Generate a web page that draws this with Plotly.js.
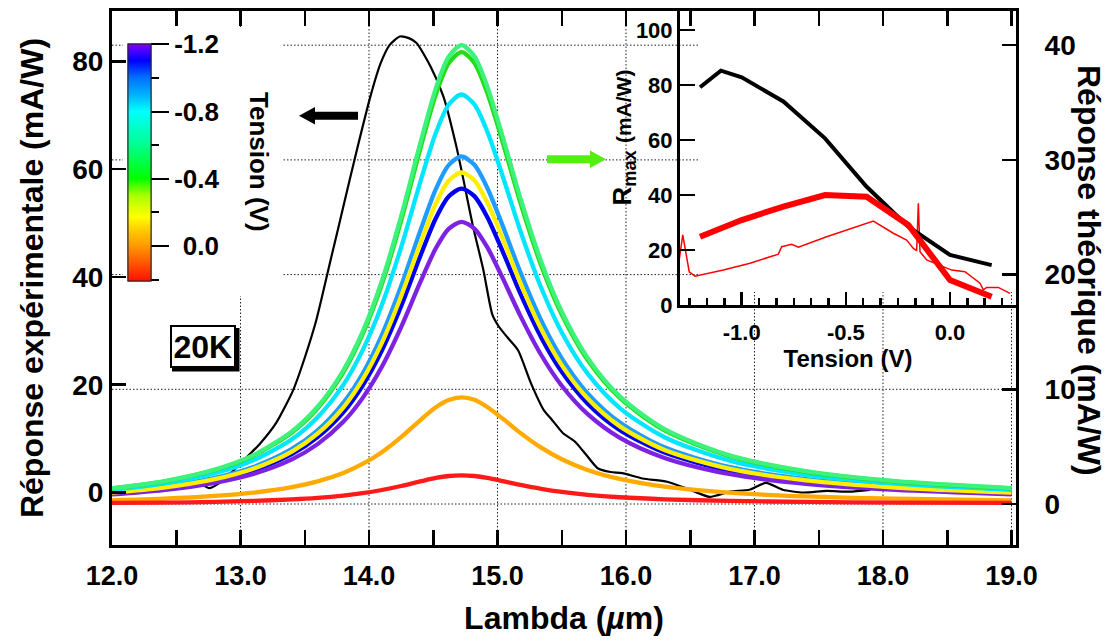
<!DOCTYPE html>
<html><head><meta charset="utf-8">
<script src="https://cdn.plot.ly/plotly-3.0.1.min.js"></script>
<style>html,body{margin:0;padding:0;background:#fff}</style>
</head><body><div id="chart" style="width:1115px;height:640px"></div>
<script>
// ---------------- DATA ----------------
// Experimental response (left axis, mA/W) vs wavelength (µm)
const lambdaExp = [12.70,12.76,12.85,12.95,13.05,13.15,13.28,13.41,13.50,13.59,13.70,13.80,13.90,14.01,14.09,14.16,14.24,14.31,14.37,14.48,14.58,14.68,14.73,14.81,14.89,14.96,15.01,15.08,15.16,15.26,15.36,15.42,15.51,15.60,15.69,15.78,15.88,15.97,16.13,16.32,16.50,16.65,16.81,16.96,17.09,17.22,17.38,17.56,17.74,17.90];
const respExp   = [1.5,0.8,2.0,4.2,6.6,9.0,13.0,19.0,25.0,32.0,43.0,53.0,63.0,73.4,79.6,83.0,84.6,84.3,83.4,79.0,73.4,64.2,58.6,49.3,41.3,33.0,30.8,28.7,26.4,20.3,15.3,13.6,11.0,9.5,7.0,4.5,3.8,3.6,2.6,2.0,0.5,-0.8,0.15,0.5,1.8,0.5,0.0,0.3,0.15,0.5];

// Theoretical responses (right axis, mA/W) for each bias
const lambdaTh  = [12.0,12.4,12.8,13.1,13.4,13.6,13.8,13.95,14.1,14.25,14.4,14.52,14.62,14.72,14.82,14.92,15.04,15.18,15.34,15.5,15.7,15.95,16.3,16.8,17.4,18.1,19.0];
const respThM12 = [0.84,1.22,1.85,2.62,3.89,5.22,7.16,9.23,11.96,15.42,19.36,22.29,23.99,24.6,24.01,22.39,19.70,16.36,12.99,10.31,7.85,5.78,4.01,2.62,1.76,1.23,0.85];
const respThM11 = [0.94,1.36,2.07,2.93,4.35,5.83,8.00,10.31,13.37,17.24,21.64,24.92,26.81,27.5,26.84,25.03,22.03,18.29,14.52,11.52,8.77,6.46,4.48,2.93,1.96,1.37,0.95];
const respThM10 = [1.04,1.50,2.28,3.23,4.80,6.42,8.82,11.36,14.73,19.0,23.85,27.45,29.54,30.3,29.57,27.57,24.27,20.15,16.0,12.70,9.67,7.12,4.94,3.23,2.16,1.51,1.05];
const respThM08 = [1.22,1.77,2.68,3.81,5.65,7.57,10.39,13.39,17.35,22.38,28.10,32.34,34.81,35.7,34.84,32.49,28.60,23.74,18.85,14.96,11.39,8.39,5.82,3.80,2.55,1.78,1.24];
const respThM06 = [1.37,1.98,3.00,4.26,6.33,8.48,11.64,15.0,19.44,25.08,31.48,36.24,39.0,40.0,39.04,36.4,32.04,26.6,21.12,16.76,12.76,9.4,6.52,4.26,2.86,1.99,1.39];
const respThM04 = [1.35,1.95,2.96,4.20,6.24,8.35,11.47,14.78,19.15,24.70,31.01,35.70,38.42,39.4,38.45,35.85,31.56,26.20,20.80,16.51,12.57,9.26,6.42,4.20,2.81,1.96,1.37];
const respThM02 = [0.99,1.43,2.17,3.08,4.57,6.13,8.41,10.84,14.05,18.12,22.74,26.18,28.18,28.9,28.21,26.30,23.15,19.22,15.26,12.11,9.22,6.79,4.71,3.08,2.06,1.44,1.00];
const respTh00  = [0.32,0.46,0.70,0.99,1.47,1.97,2.71,3.49,4.52,5.83,7.32,8.43,9.07,9.3,9.08,8.46,7.45,6.18,4.91,3.90,2.97,2.19,1.52,0.99,0.66,0.46,0.32];
const respThP02 = [0.09,0.12,0.19,0.27,0.40,0.53,0.73,0.94,1.22,1.57,1.97,2.27,2.44,2.5,2.44,2.28,2.0,1.66,1.32,1.05,0.80,0.59,0.41,0.27,0.18,0.12,0.09];

// Colour-bar tension values (V)
const tensionScale = [-1.2,-1.1,-1.0,-0.8,-0.6,-0.4,-0.2,0.0,0.2];
const cbMajorVals = [-1.2,-0.8,-0.4,0.0];
const cbMajorText = ['-1.2','-0.8','-0.4','\u20040.0'];
const cbMinorVals = [-1.0,-0.6,-0.2,0.2];

// Inset: Rmax vs tension
const tensionExpMax = [-1.2,-1.1,-1.0,-0.8,-0.6,-0.4,-0.2,0.0,0.2];
const rmaxExp       = [79.2,85.2,82.8,74.0,60.6,43.0,28.5,18.2,14.5];
const tensionThMax  = [-1.2,-1.0,-0.8,-0.6,-0.4,-0.2,0.0,0.2];
const rmaxTh        = [24.8,30.9,35.8,40.0,39.4,29.1,9.1,3.0];
const tensionScan   = [-1.300,-1.283,-1.252,-1.224,-1.088,-0.960,-0.824,-0.808,-0.760,-0.728,-0.592,-0.496,-0.368,-0.272,-0.208,-0.176,-0.160,-0.152,-0.144,-0.112,-0.048,0.008,0.072,0.144,0.160,0.176,0.232,0.288];
const rmaxScan      = [16.4,25.5,12.1,10.5,12.7,15.2,18.5,21.2,22.1,21.0,24.8,27.3,30.5,26.1,23.6,20.6,19.8,37.0,19.4,16.4,14.5,12.7,12.1,7.9,5.5,6.4,6.4,4.2];

// Tick / grid values
const lambdaTicks = [12,13,14,15,16,17,18,19];
const thGrid = [0,10,20,30,40];
const insetXTicks = [-1.0,-0.5,0.0];
const insetXText = ['-1.0','-0.5','0.0'];

// ---------------- STYLE / LAYOUT ----------------
const FONT = 'Liberation Sans, Arial, Helvetica, sans-serif';
const W = 1115, H = 640;
const M = {l:112, r:99, t:11, b:95};
const PW = W - M.l - M.r, PH = H - M.t - M.b;
const px2x = px => (px - M.l) / PW;
const px2y = py => (H - M.b - py) / PH;
const bold = (size, color) => ({family: FONT, size: size, weight: 'bold', color: color || '#000'});
const pathPx = pts => 'M' + pts.map(p => px2x(p[0]).toFixed(5) + ',' + px2y(p[1]).toFixed(5)).join('L') + 'Z';

const thSeries = [
  {y: respThM10, c: '#1e9cff'},
  {y: respThM11, c: '#0000ee'},
  {y: respThM12, c: '#7d22e0'},
  {y: respThM02, c: '#ffee00'},
  {y: respThM08, c: '#00e6ff'},
  {y: respThM04, c: '#22dc14'},
  {y: respThM06, c: '#3cf27a'},
  {y: respTh00,  c: '#ffaa00'},
  {y: respThP02, c: '#ff1a1a'}
];

const rainbow = [
  [0.00,'#ff1000'],[0.08,'#ff5a00'],[0.15,'#ff9a00'],[0.22,'#ffd000'],[0.27,'#ffff00'],
  [0.36,'#aaff00'],[0.433,'#00ff00'],[0.575,'#00ff90'],[0.716,'#00ffff'],[0.787,'#00b0ff'],
  [0.858,'#0070ff'],[0.93,'#0000ff'],[1.00,'#8000ff']
];

const traces = [];
traces.push({type:'scatter', mode:'lines', x: lambdaExp, y: respExp, xaxis:'x', yaxis:'y',
  line:{color:'#000', width:2.2, shape:'spline', smoothing:0.6}, hoverinfo:'skip', showlegend:false});
thSeries.forEach(s => traces.push({type:'scatter', mode:'lines', x: lambdaTh, y: s.y, xaxis:'x', yaxis:'y2',
  line:{color:s.c, width:4.3, shape:'spline', smoothing:0.8}, hoverinfo:'skip', showlegend:false}));

const cbCommon = {x: px2x(127.7), xanchor:'left', y: px2y(44.3), yanchor:'top', xref:'paper', yref:'paper',
  len: 237.4, lenmode:'pixels', thickness: 23, thicknessmode:'pixels', xpad:0, ypad:0,
  outlinewidth:1, outlinecolor:'#222', bgcolor:'rgba(0,0,0,0)', ticks:'outside', tickcolor:'#000'};
// colour bar (values negated so that -1.2 sits on top)
traces.push({type:'scatter', mode:'markers', x: tensionScale, y: tensionScale, xaxis:'x', yaxis:'y',
  hoverinfo:'skip', showlegend:false,
  marker:{size:1, opacity:0, color: tensionScale.map(v => -v), cmin:-0.21, cmax:1.2, colorscale: rainbow, showscale:true,
    colorbar: Object.assign({}, cbCommon, {ticklen:18, tickwidth:2, tickvals: cbMajorVals.map(v => -v), ticktext: cbMajorText,
      tickfont: bold(26)})}});
traces.push({type:'scatter', mode:'markers', x: tensionScale, y: tensionScale, xaxis:'x', yaxis:'y',
  hoverinfo:'skip', showlegend:false,
  marker:{size:1, opacity:0, color: tensionScale.map(v => -v), cmin:-0.21, cmax:1.2, colorscale: rainbow, showscale:true,
    colorbar: Object.assign({}, cbCommon, {ticklen:8, tickwidth:2, tickvals: cbMinorVals.map(v => -v), ticktext: cbMinorVals.map(() => ''),
      showticklabels:false, tickfont: bold(26)})}});

// inset traces
traces.push({type:'scatter', mode:'lines', x: tensionScan, y: rmaxScan, xaxis:'x3', yaxis:'y3',
  line:{color:'#ff0000', width:1.5}, hoverinfo:'skip', showlegend:false});
traces.push({type:'scatter', mode:'lines', x: tensionExpMax, y: rmaxExp, xaxis:'x3', yaxis:'y3',
  line:{color:'#000', width:4}, hoverinfo:'skip', showlegend:false});
traces.push({type:'scatter', mode:'lines', x: tensionThMax, y: rmaxTh, xaxis:'x3', yaxis:'y3',
  line:{color:'#ff0000', width:6}, hoverinfo:'skip', showlegend:false});

const gridLine = {color:'#222', width:1, dash:'1.5px,2px'};
const shapes = [];
lambdaTicks.slice(1).forEach(v => shapes.push({type:'line', xref:'x', yref:'paper', x0:v, x1:v, y0:0, y1:1, layer:'below', line:gridLine}));
thGrid.forEach(v => shapes.push({type:'line', xref:'paper', yref:'y2', x0:0, x1:1, y0:v, y1:v, layer:'below', line:gridLine}));
// white areas behind colour bar block and inset
shapes.push({type:'rect', xref:'paper', yref:'paper', x0:px2x(123), x1:px2x(283), y0:px2y(296), y1:px2y(28), layer:'below', line:{width:0}, fillcolor:'#fff'});
shapes.push({type:'rect', xref:'paper', yref:'paper', x0:px2x(698), x1:1, y0:px2y(292), y1:1, layer:'below', line:{width:0}, fillcolor:'#fff'});
// shadow behind the "20K" label box
shapes.push({type:'rect', xref:'paper', yref:'paper', x0:px2x(172), x1:px2x(239.5), y0:px2y(371.5), y1:px2y(328), layer:'above', line:{width:0}, fillcolor:'#000'});
// arrows (black -> left axis, green -> right axis)
shapes.push({type:'path', xref:'paper', yref:'paper', layer:'above', line:{width:0}, fillcolor:'#000',
  path: pathPx([[299,115.7],[315,107],[315,111.7],[358,111.7],[358,119.7],[315,119.7],[315,124.4]])});
shapes.push({type:'path', xref:'paper', yref:'paper', layer:'above', line:{width:0}, fillcolor:'#55ee11',
  path: pathPx([[606,159.3],[590,150.6],[590,155.3],[547,155.3],[547,163.3],[590,163.3],[590,168]])});

const axisCommon = {showline:true, linewidth:3, linecolor:'#000', ticks:'inside', tickcolor:'#000',
  showgrid:false, zeroline:false, automargin:false};

const layout = {
  width: W, height: H, margin: M, paper_bgcolor:'#fff', plot_bgcolor:'rgba(0,0,0,0)',
  showlegend:false, font:{family: FONT, color:'#000'},
  xaxis: Object.assign({}, axisCommon, {domain:[0,1], anchor:'y', range:[12, 12 + PW/128.5], mirror:'allticks',
    ticklen:15, tickwidth:2.5, tick0:12, dtick:1, tickformat:'.1f', tickfont: bold(27), ticklabelstandoff:5,
    minor:{dtick:0.5, tick0:12, ticks:'inside', ticklen:8, tickwidth:2.5, tickcolor:'#000', showgrid:false},
    title:{text:'Lambda (<i>µ</i>m)', font: bold(32), standoff:17}}),
  yaxis: Object.assign({}, axisCommon, {domain:[0,1], anchor:'x', side:'left', range:[(492.5-545)/5.39, (492.5-11)/5.39],
    ticklen:14, tickwidth:2.5, tick0:0, dtick:20, tickfont: bold(28),
    title:{text:'Réponse expérimentale (mA/W)', font: bold(32), standoff:20}}),
  yaxis2: Object.assign({}, axisCommon, {overlaying:'y', side:'right', anchor:'x', range:[(504-545)/11.47, (504-11)/11.47],
    ticklen:14, tickwidth:2.5, tick0:0, dtick:10, tickfont: bold(28), ticklabelstandoff:20}),
  xaxis3: Object.assign({}, axisCommon, {domain:[px2x(680),1], anchor:'y3', range:[-1 - (741.7-680)/208.3, -1 + (1016-741.7)/208.3],
    ticklen:13, tickwidth:2.5, tickmode:'array', tickvals: insetXTicks, ticktext: insetXText, tickfont: bold(22), ticklabelstandoff:6,
    minor:{tickmode:'linear', tick0:0, dtick:1/12, ticks:'inside', ticklen:7, tickwidth:2.5, tickcolor:'#000', showgrid:false},
    title:{text:'Tension (V)', font: bold(24), standoff:2}}),
  yaxis3: Object.assign({}, axisCommon, {domain:[px2y(305),1], anchor:'x3', range:[0, (305-11)/2.75],
    ticklen:15, tickwidth:2.5, tick0:0, dtick:20, tickfont: bold(22)}),
  shapes: shapes,
  annotations: [
    {xref:'paper', yref:'paper', x:px2x(202.5), y:px2y(346.5), xanchor:'center', yanchor:'middle', text:'20K', showarrow:false,
      font: bold(32), bgcolor:'#fff', bordercolor:'#000', borderwidth:2, borderpad:1.5},
    {xref:'paper', yref:'paper', x:px2x(259), y:px2y(162), xanchor:'center', yanchor:'middle', text:'Tension (V)', textangle:90, showarrow:false, font: bold(26)},
    {xref:'paper', yref:'paper', x:px2x(1089), y:px2y(270), xanchor:'center', yanchor:'middle', text:'Réponse théorique (mA/W)', textangle:90, showarrow:false, font: bold(32)},
    {xref:'paper', yref:'paper', x:px2x(623), y:px2y(137.5), xanchor:'center', yanchor:'middle',
      text:'R<sub>max</sub> <span style="font-size:21px">(mA/W)</span>', textangle:-90, showarrow:false, font: bold(26)}
  ]
};

Plotly.newPlot('chart', traces, layout, {staticPlot:true, displayModeBar:false});
</script>
</body></html>
